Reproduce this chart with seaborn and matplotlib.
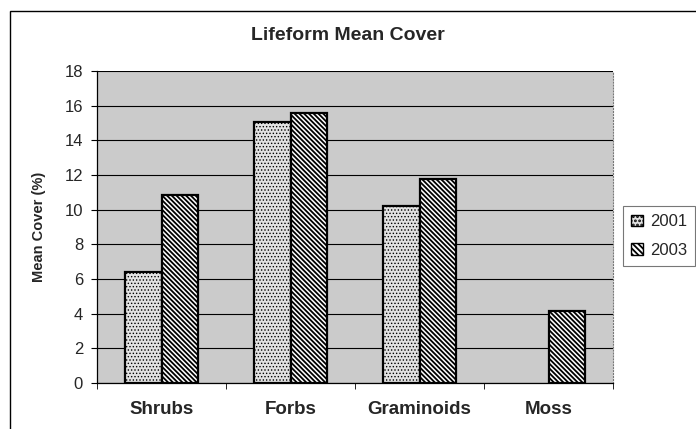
import pandas as pd
import seaborn as sns
import numpy as np
import matplotlib.pyplot as plt
import matplotlib.patches as mpatches

lifeforms = ['Shrubs', 'Forbs', 'Graminoids', 'Moss']
years = ['2001', '2003']
cover_2001 = [6.4, 15.05, 10.2, np.nan]
cover_2003 = [10.85, 15.6, 11.75, 4.15]
y_ticks = [0, 2, 4, 6, 8, 10, 12, 14, 16, 18]

df = pd.DataFrame({
    'lifeform': lifeforms * 2,
    'year': [years[0]] * 4 + [years[1]] * 4,
    'cover': cover_2001 + cover_2003,
})

sns.set_style('white')
plt.rcParams['font.family'] = ['Liberation Sans', 'DejaVu Sans']
plt.rcParams['hatch.linewidth'] = 1.3

fig = plt.figure(figsize=(6.96, 4.29), dpi=100)
ax = fig.add_axes([97 / 696, 1 - 383 / 429, 516 / 696, 312 / 429])
ax.set_facecolor('#cbcbcb')

bar_colors = ['#e2e2e2', 'white']
sns.barplot(data=df, x='lifeform', y='cover', hue='year', order=lifeforms,
            hue_order=years, palette=bar_colors, width=0.57,
            edgecolor='black', linewidth=1.6, legend=False, ax=ax, zorder=3)

hatches = ['.' * 5, '\\' * 7]
hatch_lw = [0.6, 1.3]
for cont, h, lw in zip(ax.containers, hatches, hatch_lw):
    for bar in cont:
        bar.set_hatch(h)
        if hasattr(bar, 'set_hatch_linewidth'):
            bar.set_hatch_linewidth(lw)

ax.set_ylim(0, 18)
ax.set_xlim(-0.5, 3.5)
ax.set_yticks(y_ticks)
ax.set_yticklabels([str(t) for t in y_ticks], fontsize=12)
ax.yaxis.grid(True, color='black', linewidth=0.8, zorder=1)
ax.set_axisbelow(True)

ax.set_xticks(range(4))
ax.set_xticklabels(lifeforms, fontsize=13.5, fontweight='bold')
ax.tick_params(axis='x', length=0, pad=13)
ax.set_xticks([-0.5, 0.5, 1.5, 2.5, 3.5], minor=True)
ax.tick_params(axis='x', which='minor', length=4, color='black', direction='out', bottom=True)
ax.tick_params(axis='y', length=4, color='black', direction='out', left=True, pad=6)

ax.set_xlabel('')
ax.set_ylabel('Mean Cover (%)', fontsize=10.5, fontweight='bold', labelpad=13)

for side in ['left', 'bottom']:
    ax.spines[side].set_color('black')
    ax.spines[side].set_linewidth(0.9)
ax.spines['top'].set_visible(False)
ax.spines['right'].set_color('#777777')
ax.spines['right'].set_linestyle(':')

fig.text(0.5, 1 - 35 / 429, 'Lifeform Mean Cover', ha='center', va='center',
         fontsize=14, fontweight='bold')

handles = [mpatches.Patch(facecolor=c, edgecolor='black', hatch=h, label=y)
           for c, h, y in zip(bar_colors, ['.' * 4, '\\' * 6], years)]
leg = fig.legend(handles=handles, loc='lower left',
                 bbox_to_anchor=(623 / 696, 1 - 266 / 429), borderaxespad=0,
                 fontsize=12, frameon=True, fancybox=False,
                 handlelength=0.7, handleheight=0.7, handletextpad=0.4,
                 borderpad=0.5, labelspacing=0.8)
leg.get_frame().set_edgecolor('#555555')
leg.get_frame().set_linewidth(0.8)

border = mpatches.Rectangle((10 / 696, -0.1), 1.2, 1.1 - 11 / 429, transform=fig.transFigure,
                            fill=False, edgecolor='black', linewidth=1.0)
fig.patches.append(border)

fig.savefig('out.png', dpi=100)
